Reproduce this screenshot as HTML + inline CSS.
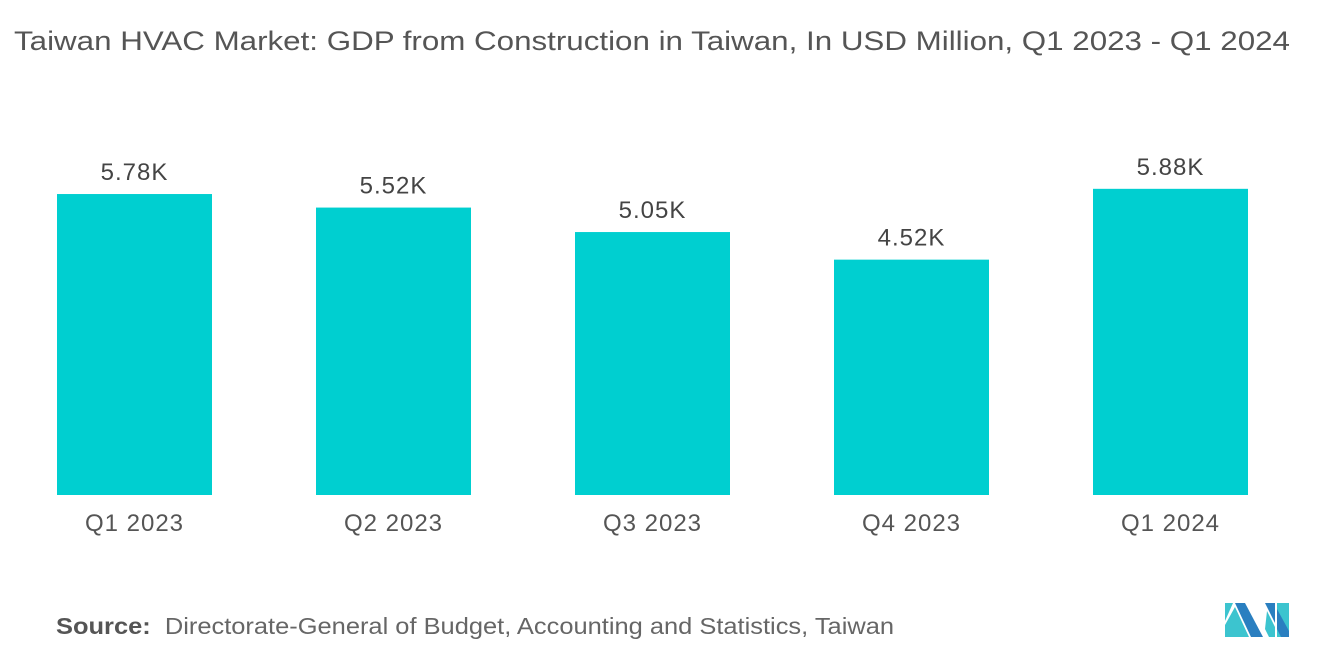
<!DOCTYPE html>
<html><head><meta charset="utf-8"><style>
body{margin:0;width:1320px;height:665px;background:#fff;font-family:"Liberation Sans",sans-serif;overflow:hidden;position:relative}
.t{position:absolute;white-space:nowrap;transform-origin:0 0}
</style></head><body>
<div class="t" style="left:14px;top:26px;font-size:27px;color:#555;transform:scaleX(1.16)">Taiwan HVAC Market: GDP from Construction in Taiwan, In USD Million, Q1 2023 - Q1 2024</div>
<svg id="chart" width="1320" height="560" style="position:absolute;left:0;top:0"></svg>
<div class="t" style="left:56px;top:613px;font-size:23px;color:#666;transform:scaleX(1.106)"><b style="color:#555;font-weight:bold">Source:</b>&nbsp; Directorate-General of Budget, Accounting and Statistics, Taiwan</div>
<svg width="70" height="40" style="position:absolute;left:1223px;top:601px" viewBox="0 0 70 40">
<polygon points="2,2 10,2 2,20" fill="#3cc4cf"/>
<polygon points="12,2 22,2 40,36 28,36" fill="#2a7fc0"/>
<polygon points="2,24 12,6 26,36 2,36" fill="#3cc4cf"/>
<polygon points="42,2 52,2 52,22" fill="#2a7fc0"/>
<polygon points="44,10 52,26 52,36 46,36 42,28" fill="#3cc4cf"/>
<polygon points="54,2 66,2 66,36 54,36" fill="#3cc4cf"/>
<polygon points="54,8 66,30 66,36 58,36 54,28" fill="#2a7fc0"/>
</svg>
<script>
const categories=["Q1 2023","Q2 2023","Q3 2023","Q4 2023","Q1 2024"];
const values=[5.78,5.52,5.05,4.52,5.88];
const valueLabels=["5.78K","5.52K","5.05K","4.52K","5.88K"];
const svg=document.getElementById('chart');
const NS="http://www.w3.org/2000/svg";
const baseY=495,pxPerK=52.07,x0=57,step=259,bw=155;
const y=v=>baseY-v*pxPerK;
categories.forEach((c,i)=>{
  const x=x0+i*step;
  const r=document.createElementNS(NS,'rect');
  
  
  r.setAttribute('x',x);r.setAttribute('y',y(values[i]));r.setAttribute('width',bw);r.setAttribute('height',baseY-y(values[i]));r.setAttribute('fill','#00cfd0');
  svg.appendChild(r);
  const t=document.createElementNS(NS,'text');
  
  
  t.setAttribute('x',x+bw/2);t.setAttribute('y',y(values[i])-14);t.setAttribute('text-anchor','middle');t.setAttribute('font-size','24');t.setAttribute('letter-spacing','1');t.setAttribute('fill','#444');
  t.textContent=valueLabels[i];svg.appendChild(t);
  const l=document.createElementNS(NS,'text');
  
  
  l.setAttribute('x',x+bw/2);l.setAttribute('y',531);l.setAttribute('text-anchor','middle');l.setAttribute('font-size','24');l.setAttribute('letter-spacing','1');l.setAttribute('fill','#555');
  l.textContent=c;svg.appendChild(l);
});
</script>
</body></html>
